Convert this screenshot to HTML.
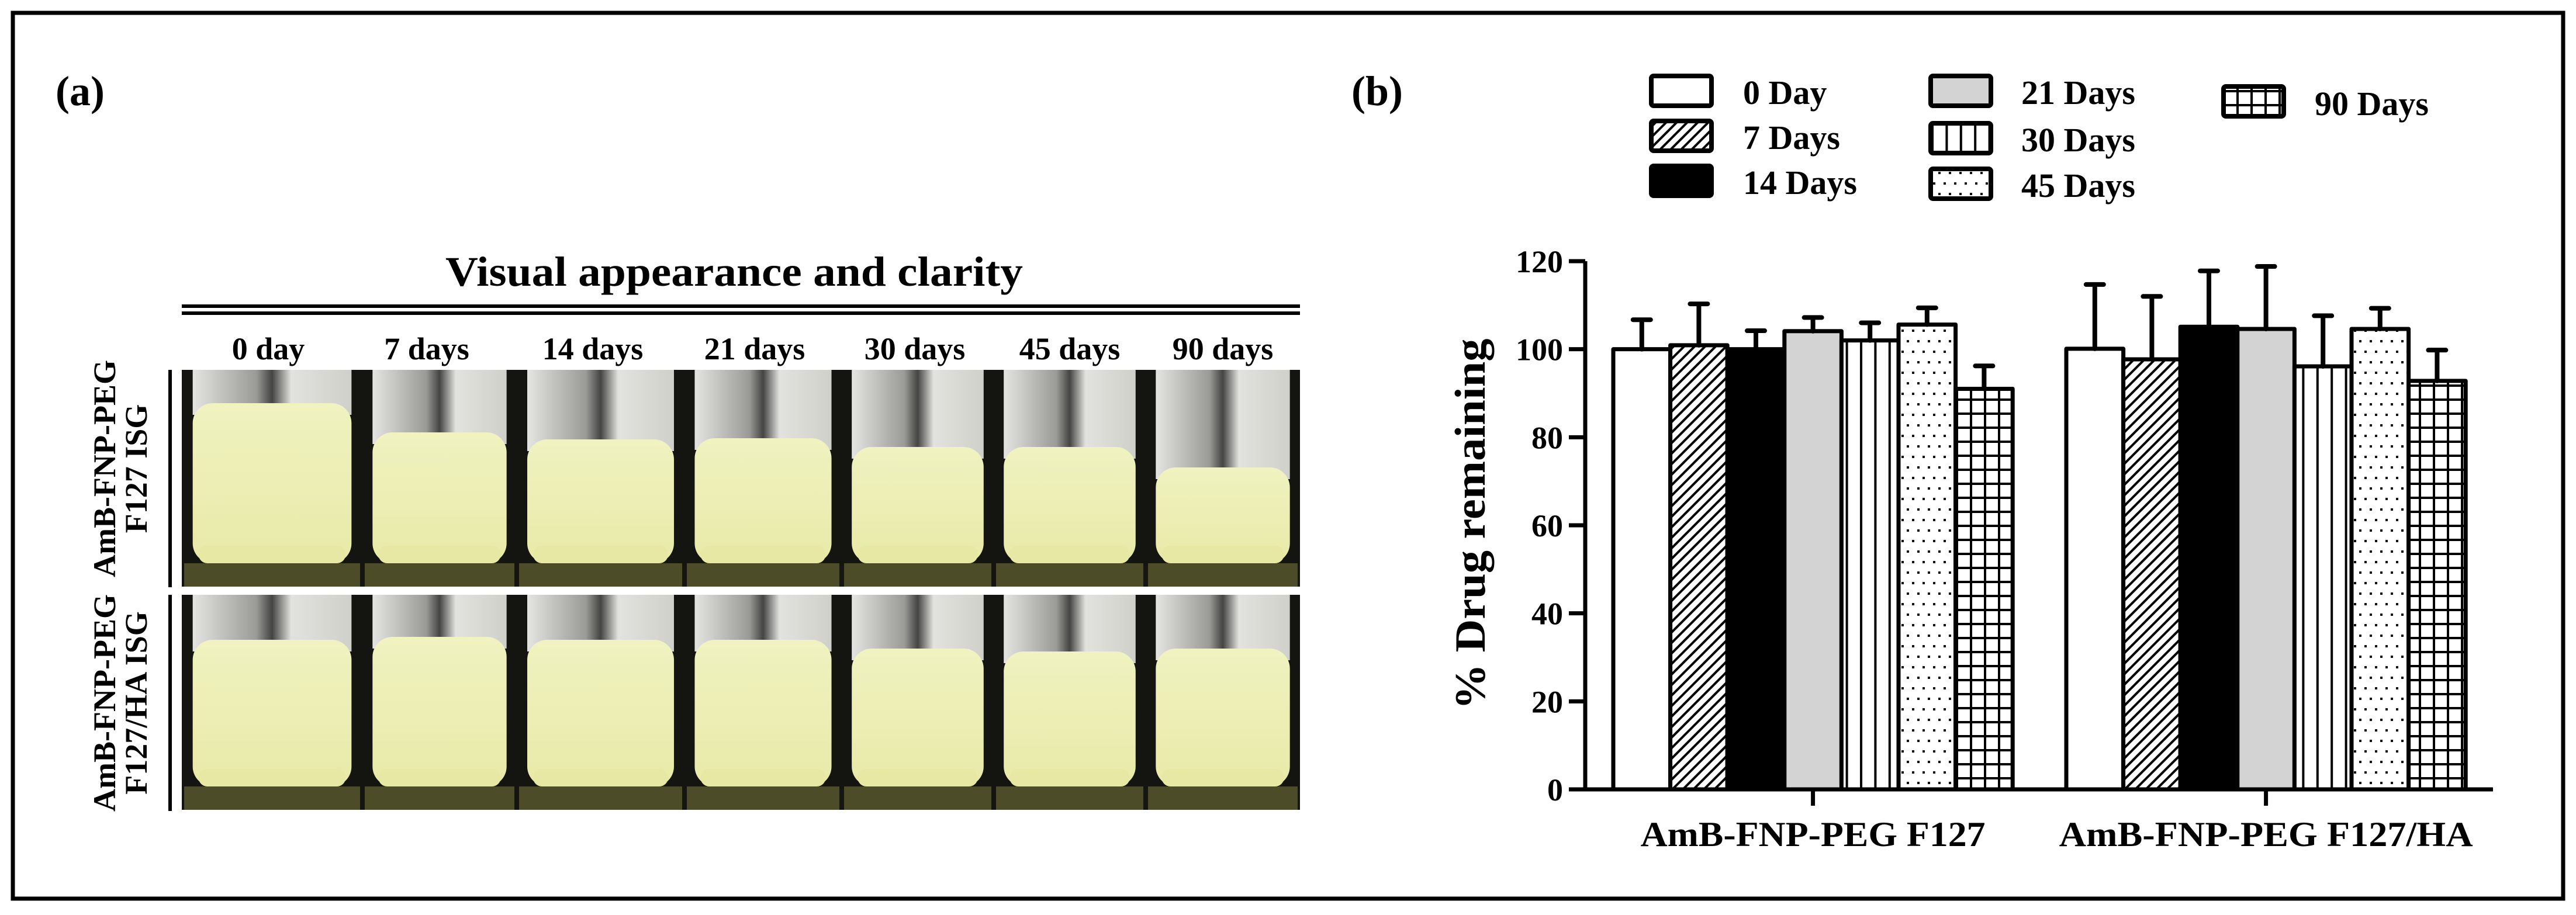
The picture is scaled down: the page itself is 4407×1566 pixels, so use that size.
<!DOCTYPE html>
<html><head><meta charset="utf-8">
<style>
html,body{margin:0;padding:0;background:#fff;}
svg{display:block;}
text{font-family:"Liberation Serif",serif;fill:#000;}
</style></head>
<body>
<svg id="fig" width="4407" height="1566" viewBox="0 0 4407 1566" xmlns="http://www.w3.org/2000/svg">
<defs>
  <pattern id="p-hatch" patternUnits="userSpaceOnUse" width="18" height="18">
    <rect width="18" height="18" fill="#fff"/>
    <path d="M-4,22 L22,-4 M-4,4 L4,-4 M14,22 L22,14" stroke="#000" stroke-width="4"/>
  </pattern>
  <pattern id="p-vert" patternUnits="userSpaceOnUse" width="24.4" height="10">
    <rect width="24.4" height="10" fill="#fff"/>
    <rect x="10" y="0" width="4" height="10" fill="#000"/>
  </pattern>
  <pattern id="p-dots" patternUnits="userSpaceOnUse" width="36" height="36">
    <rect width="36" height="36" fill="#fff"/>
    <rect x="4" y="6" width="4" height="4" fill="#111"/>
    <rect x="22" y="6" width="4" height="4" fill="#111"/>
    <rect x="13" y="24" width="4" height="4" fill="#111"/>
    <rect x="31" y="24" width="4" height="4" fill="#111"/>
  </pattern>
  <pattern id="p-grid" patternUnits="userSpaceOnUse" width="24" height="24">
    <rect width="24" height="24" fill="#fff"/>
    <rect x="10" y="0" width="4" height="24" fill="#000"/>
    <rect x="0" y="10" width="24" height="4" fill="#000"/>
  </pattern>
  <linearGradient id="liq" x1="0" y1="0" x2="0" y2="1">
    <stop offset="0" stop-color="#f0f2c0"/>
    <stop offset="1" stop-color="#e8eaa8"/>
  </linearGradient>
  <linearGradient id="glass" x1="0" y1="0" x2="1" y2="0">
    <stop offset="0" stop-color="#e4e4e0"/>
    <stop offset="0.4" stop-color="#9a9a96"/>
    <stop offset="0.5" stop-color="#444442"/>
    <stop offset="0.62" stop-color="#e2e2de"/>
    <stop offset="1" stop-color="#d0d0ca"/>
  </linearGradient>
</defs>

<rect x="22" y="22" width="4363" height="1516" fill="none" stroke="#000" stroke-width="7"/>

<g id="panel-a">
  <text x="95" y="180" font-size="72" font-weight="bold">(a)</text>
  <text x="1256" y="489" font-size="72" font-weight="bold" text-anchor="middle" textLength="988" lengthAdjust="spacingAndGlyphs">Visual appearance and clarity</text>
  <rect x="311" y="521" width="1913" height="6" fill="#000"/>
  <rect x="311" y="533" width="1913" height="6" fill="#000"/>
  <g id="photos"></g>
  <rect x="288" y="633" width="6" height="372" fill="#000"/>
  <rect x="288" y="1018" width="6" height="370" fill="#000"/>
  <g transform="translate(207,802) rotate(-90)">
    <text x="0" y="-10" font-size="54" font-weight="bold" text-anchor="middle">AmB-FNP-PEG</text>
    <text x="0" y="44" font-size="54" font-weight="bold" text-anchor="middle">F127 ISG</text>
  </g>
  <g transform="translate(207,1203) rotate(-90)">
    <text x="0" y="-10" font-size="54" font-weight="bold" text-anchor="middle">AmB-FNP-PEG</text>
    <text x="0" y="44" font-size="54" font-weight="bold" text-anchor="middle">F127/HA ISG</text>
  </g>
</g>

<g id="panel-b">
  <text x="2312" y="180" font-size="72" font-weight="bold">(b)</text>
  <g id="legend"></g>
  <g id="chart"></g>
</g>
</svg>

<script>
// ---- chart data ----
const groups = ["AmB-FNP-PEG F127", "AmB-FNP-PEG F127/HA"];
const seriesNames = ["0 Day", "7 Days", "14 Days", "21 Days", "30 Days", "45 Days", "90 Days"];
const meansF127 = [100, 100.9, 100, 104.1, 102, 105.6, 91];
const errF127 = [6.7, 9.4, 4.2, 3.1, 4, 3.8, 5.2];
const meansF127HA = [100.1, 97.7, 105.1, 104.6, 96.1, 104.6, 92.8];
const errF127HA = [14.6, 14.3, 12.7, 14.2, 11.5, 4.7, 7];
const yTicks = [0, 20, 40, 60, 80, 100, 120];
const dayLabels = ["0 day", "7 days", "14 days", "21 days", "30 days", "45 days", "90 days"];

const NS = "http://www.w3.org/2000/svg";
function mk(tag, attrs, parent) {
  const e = document.createElementNS(NS, tag);
  for (const k in attrs) e.setAttribute(k, attrs[k]);
  parent.appendChild(e);
  return e;
}
const fills = ["#fff", "url(#p-hatch)", "#000", "#d3d3d3", "url(#p-vert)", "url(#p-dots)", "url(#p-grid)"];

const X0 = 2712, XEND = 4265, Y0 = 1351, YTOP = 447, YMAX = 120;
const groupStart = [2760, 3535];
const barW = 97.6;
function y(v) { return Y0 - (v / YMAX) * (Y0 - YTOP); }
function xBar(g, i) { return groupStart[g] + i * barW; }

const chart = document.getElementById("chart");
const allMeans = [meansF127, meansF127HA];
const allErr = [errF127, errF127HA];

for (let g = 0; g < groups.length; g++) {
  for (let i = 0; i < seriesNames.length; i++) {
    const m = allMeans[g][i], e = allErr[g][i];
    const xb = xBar(g, i);
    const r = mk("rect", {x: xb, y: y(m), width: barW, height: Y0 - y(m), fill: fills[i], stroke: "#000", "stroke-width": 7, "stroke-linejoin": "round"}, chart);
    
    
    const cx = xb + barW / 2;
    const eb = mk("path", {d: `M${cx},${y(m)} L${cx},${y(m + e)} M${cx - 15},${y(m + e)} L${cx + 15},${y(m + e)}`, stroke: "#000", "stroke-width": 8, "stroke-linecap": "round", fill: "none"}, chart);
    
    
  }
}

const ya = mk("path", {d: `M${X0},${YTOP} L${X0},${Y0}`, stroke: "#000", "stroke-width": 7, fill: "none"}, chart);


for (const t of yTicks) {
  const tk = mk("path", {d: `M${X0 - 28},${y(t)} L${X0},${y(t)}`, stroke: "#000", "stroke-width": 7}, chart);
  
  
  const tl = mk("text", {x: X0 - 38, y: y(t) + 19, "font-size": 54, "font-weight": "bold", "text-anchor": "end"}, chart);
  tl.textContent = t;
  
  
}
const xa = mk("path", {d: `M${X0},${Y0} L${XEND},${Y0}`, stroke: "#000", "stroke-width": 7, fill: "none"}, chart);


const xLabelLen = [590, 708];
for (let g = 0; g < groups.length; g++) {
  const cx = groupStart[g] + barW * seriesNames.length / 2;
  const tk = mk("path", {d: `M${cx},${Y0} L${cx},${Y0 + 28}`, stroke: "#000", "stroke-width": 7}, chart);
  
  
  const tl = mk("text", {x: cx, y: 1448, "font-size": 60, "font-weight": "bold", "text-anchor": "middle", textLength: xLabelLen[g], lengthAdjust: "spacingAndGlyphs"}, chart);
  tl.textContent = groups[g];
  
  
}
const yt = mk("text", {x: 0, y: 0, "font-size": 74, "font-weight": "bold", "text-anchor": "middle", transform: "translate(2540,897) rotate(-90)", textLength: 635, lengthAdjust: "spacingAndGlyphs"}, chart);
yt.textContent = "% Drug remaining";



const legend = document.getElementById("legend");
const legPos = [
  [2825, 130, 2982, 178], [2825, 207, 2982, 255], [2825, 284, 2982, 332],
  [3303, 130, 3458, 178], [3303, 211, 3458, 259], [3303, 289, 3458, 337],
  [3804, 148, 3960, 197]
];
for (let i = 0; i < seriesNames.length; i++) {
  const p = legPos[i];
  const sw = mk("rect", {x: p[0], y: p[1], width: 103, height: 51, rx: 4, fill: fills[i], stroke: "#000", "stroke-width": 8}, legend);
  
  
  const tx = mk("text", {x: p[2], y: p[3], "font-size": 58, "font-weight": "bold"}, legend);
  tx.textContent = seriesNames[i];
  
  
}

// vial photos
const photos = document.getElementById("photos");
const colX = [311, 620, 884, 1171, 1440, 1700, 1960, 2224];
const dayCX = [459, 730, 1014, 1291, 1565, 1830, 2092];
const liquidTop1 = [690, 740, 752, 750, 765, 765, 800];
const liquidTop2 = [1095, 1090, 1095, 1095, 1110, 1115, 1110];
const rows = [[633, 1004, liquidTop1], [1018, 1386, liquidTop2]];
for (let r = 0; r < 2; r++) {
  const [y1, y2] = rows[r];
  const bgr = mk("rect", {x: 311, y: y1, width: 1913, height: y2 - y1, fill: "#141410"}, photos);
  
  
}
for (let c = 0; c < 7; c++) {
  const lbl = mk("text", {x: dayCX[c], y: 615, "font-size": 54, "font-weight": "bold", "text-anchor": "middle"}, photos);
  lbl.textContent = dayLabels[c];
  
  
  for (let r = 0; r < 2; r++) {
    const [y1, y2, lt] = rows[r];
    const x1 = colX[c] + 10, x2 = colX[c + 1] - 10, w = x2 - x1;
    const vx = x1 + w * 0.03, vw = w * 0.94;
    const gl = mk("rect", {x: vx, y: y1, width: vw, height: lt[c] - y1 + 20, fill: "url(#glass)"}, photos);
    
    
    mk("rect", {x: vx, y: lt[c], width: vw, height: (y2 - 40) - lt[c], rx: 34, fill: "url(#liq)"}, photos);
    mk("rect", {x: x1 - 6, y: y2 - 40, width: w + 12, height: 40, fill: "#5a5a30", opacity: 0.8}, photos);
    mk("rect", {x: vx + 10, y: y2 - 70, width: vw - 20, height: 30, rx: 15, fill: "#e6e8a4"}, photos);
  }
}
</script>
</body></html>
